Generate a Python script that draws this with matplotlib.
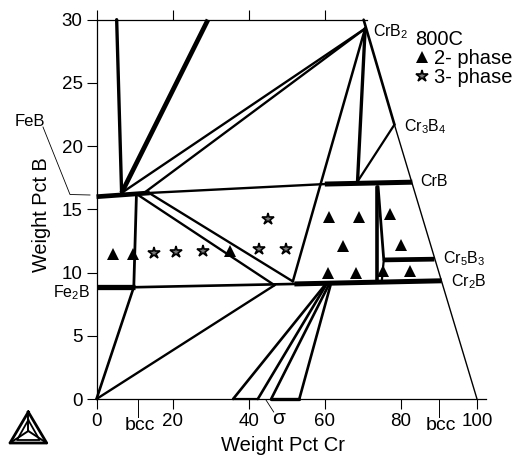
import matplotlib
matplotlib.use("Agg")
import matplotlib.pyplot as plt
from matplotlib.lines import Line2D

plt.rcParams['font.family'] = ['Liberation Sans', 'DejaVu Sans']
plt.rcParams['mathtext.fontset'] = 'custom'
plt.rcParams['mathtext.rm'] = 'Liberation Sans'
plt.rcParams['mathtext.default'] = 'rm'

W, H = 516, 459
x_ticks = [0, 20, 40, 60, 80, 100]
y_ticks = [0, 5, 10, 15, 20, 25, 30]

# (x0, y0, x1, y1, width)
segments = [
    (5.3, 30, 6.6, 16.3, 2.4),
    (29.3, 30, 6.6, 16.3, 3.4),
    (6.6, 16.3, 70.6, 29.3, 1.7),
    (12.5, 16.3, 70.6, 29.3, 1.7),
    (0, 16.0, 14.0, 16.3, 3.4),
    (14.0, 16.3, 60.0, 17.0, 1.7),
    (60.0, 17.0, 83.0, 17.15, 3.6),
    (70.6, 29.3, 58.9, 17.0, 1.8),
    (58.9, 17.0, 51.6, 9.3, 1.8),
    (70.6, 29.3, 68.6, 17.2, 2.4),
    (78.3, 21.7, 68.6, 17.2, 1.6),
    (73.7, 16.8, 73.7, 9.4, 2.6),
    (74.0, 16.8, 75.5, 11.0, 2.0),
    (75.5, 11.0, 75.0, 9.4, 1.6),
    (75.5, 11.0, 88.8, 11.06, 3.4),
    (0, 8.84, 10.0, 8.84, 3.8),
    (10.0, 8.84, 52.0, 9.1, 1.9),
    (52.0, 9.1, 90.7, 9.35, 3.6),
    (0, 0, 9.8, 8.85, 1.9),
    (9.8, 8.85, 10.5, 16.2, 2.0),
    (0, 0, 46.8, 9.0, 1.7),
    (10.6, 16.2, 46.8, 9.0, 1.7),
    (13.8, 16.3, 51.6, 9.3, 1.7),
    (35.9, 0, 60.0, 9.0, 1.9),
    (42.4, 0, 60.3, 9.0, 1.9),
    (45.9, 0, 61.0, 9.0, 1.9),
    (53.3, 0, 61.5, 9.0, 1.9),
    (35.9, 0, 42.4, 0, 1.6),
    (45.9, 0, 53.3, 0, 2.4),
    (70.2, 30, 78.3, 21.7, 1.9),
    (78.3, 21.7, 100, 0, 1.0),
]
tri_x = [4.25, 9.7, 35.0, 61.0, 69.0, 77.2, 64.9, 80.0, 60.9, 68.2, 75.4, 82.5]
tri_y = [11.5, 11.5, 11.7, 14.4, 14.4, 14.6, 12.1, 12.2, 9.95, 10.0, 10.1, 10.15]
star_x = [15.2, 21.0, 28.0, 42.8, 49.8, 45.0]
star_y = [11.55, 11.6, 11.7, 11.85, 11.85, 14.2]

fig = plt.figure(figsize=(W / 100, H / 100), dpi=100)
L, R, T, B = 96.5, 485.7, 19.7, 399.0
ax = fig.add_axes([L / W, 1 - B / H, (R - L) / W, (B - T) / H])
ax.set_xlim(0, (R - L) / 3.805)
ax.set_ylim(0, 30)
ax.patch.set_visible(False)

ax.spines['right'].set_visible(False)
for s in ('left', 'top', 'bottom'):
    ax.spines[s].set_linewidth(0.9)
ax.spines['top'].set_bounds(0, 71)

ax.set_xticks(x_ticks)
ax.set_yticks(y_ticks)
ax.tick_params(axis='both', length=7, width=0.8, labelsize=13.5, pad=3)
top = ax.secondary_xaxis('top')
top.set_xticks(x_ticks[:4])
top.set_xticklabels([])
top.tick_params(length=7, width=0.8)
top.spines['top'].set_visible(False)

ax.set_xlabel('Weight Pct Cr', fontsize=14.5)
ax.set_ylabel('Weight Pct B', fontsize=14.3)
ax.xaxis.set_label_coords(0.479, -0.098)
ax.yaxis.set_label_coords(-0.118, 0.486)

for x0, y0, x1, y1, w in segments:
    ax.plot([x0, x1], [y0, y1], color='black', lw=w,
            solid_capstyle='butt' if w > 3 else 'round', clip_on=False)

star_style = dict(ls='', marker='*', ms=9, mfc='#777777', mec='black', mew=1.2)
tri_style = dict(ls='', marker='^', ms=8.5, color='black', mew=0)
ax.plot(tri_x, tri_y, **tri_style)
ax.plot(star_x, star_y, **star_style)

handles = [Line2D([], [], **tri_style), Line2D([], [], **star_style)]
ax.legend(handles, ['2- phase', '3- phase'], title='800C', loc='upper left',
          bbox_to_anchor=((415 - L) / (R - L), 1 - (30 - T) / (B - T)), frameon=False,
          fontsize=14.5, title_fontsize=14.5, handlelength=0.65, handletextpad=0.3,
          labelspacing=0.0, borderaxespad=0, borderpad=0, alignment='left')

def lab(x, y, s, size=11.5, ha='left', va='center'):
    fig.text(x / W, 1 - y / H, s, fontsize=size, ha=ha, va=va)

lab(373, 32, 'CrB$_2$')
lab(404, 127, 'Cr$_3$B$_4$')
lab(420, 182, 'CrB')
lab(443, 259, 'Cr$_5$B$_3$')
lab(451, 282, 'Cr$_2$B')
lab(15, 122, 'FeB', 12)
lab(53, 293, 'Fe$_2$B')
lab(125, 426, 'bcc', 14)
lab(426, 426, 'bcc', 14)
lab(272, 419, 'σ', 15)

def fl(ps, lw=0.7):
    xs = [p[0] / W for p in ps]
    ys = [1 - p[1] / H for p in ps]
    fig.add_artist(Line2D(xs, ys, color='black', lw=lw))

fl([(43, 127), (70, 194.5), (90, 195)], 0.6)
fl([(266, 400), (273.7, 412)], 0.6)
fl([(138, 400), (138, 417)], 0.7)
fl([(439, 400), (439, 417)], 0.7)

# logo
o = [(28.3, 412), (10, 443), (46.7, 443)]
fl(o + [o[0]], 2.0)
cx, cy = 28.3, 431
mid = [(28.3, 420), (17, 440), (39.6, 440)]
fl(mid + [mid[0]], 1.3)
for p in o:
    fl([p, (cx, cy)], 1.4)

fig.savefig('out.png', dpi=100)
